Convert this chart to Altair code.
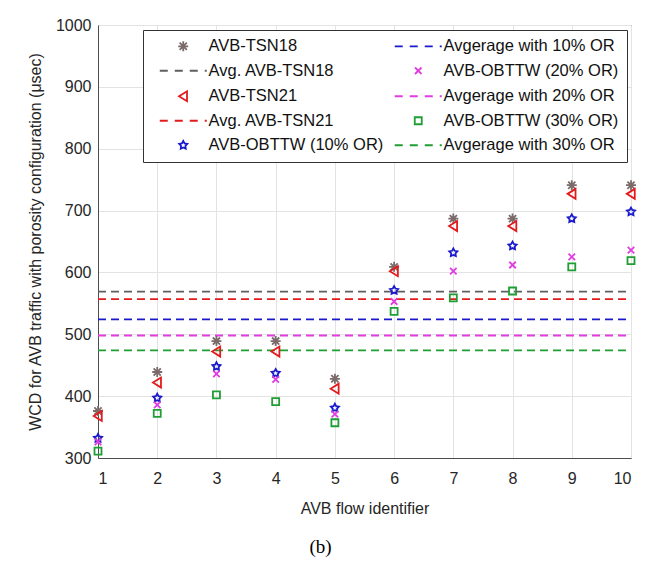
import altair as alt
import pandas as pd

flows = [1, 2, 3, 4, 5, 6, 7, 8, 9, 10]
tsn18 = [376, 439, 489, 489, 428, 609, 687, 687, 741, 741]
tsn21 = [368, 422, 472, 472, 412, 602, 675, 675, 727, 727]
obttw10 = [332, 397, 448, 437, 381, 571, 632, 643, 687, 698]
obttw20 = [326, 386, 436, 427, 371, 553, 602, 612, 625, 636]
obttw30 = [311, 372, 402, 391, 357, 537, 559, 570, 609, 619]

avg_names = ["Avg. AVB-TSN18", "Avg. AVB-TSN21", "Avgerage with 10% OR",
             "Avgerage with 20% OR", "Avgerage with 30% OR"]
avg_values = [569, 557, 524, 498, 474]

point_names = ["AVB-TSN18", "AVB-TSN21", "AVB-OBTTW (10% OR)",
               "AVB-OBTTW (20% OR)", "AVB-OBTTW (30% OR)"]
point_values = [tsn18, tsn21, obttw10, obttw20, obttw30]

# legend order (column-major in a 2-column legend)
legend_order = ["AVB-TSN18", "Avg. AVB-TSN18", "AVB-TSN21", "Avg. AVB-TSN21",
                "AVB-OBTTW (10% OR)", "Avgerage with 10% OR",
                "AVB-OBTTW (20% OR)", "Avgerage with 20% OR",
                "AVB-OBTTW (30% OR)", "Avgerage with 30% OR"]

C_AST = "#7a6a6a"
C_GRAY = "#5f5f5f"
C_RED = "#e31a1c"
C_BLUE = "#1a1acc"
C_MAG = "#e03ce0"
C_GREEN = "#1f9e33"

color_map = {
    "AVB-TSN18": C_AST, "Avg. AVB-TSN18": C_GRAY,
    "AVB-TSN21": C_RED, "Avg. AVB-TSN21": C_RED,
    "AVB-OBTTW (10% OR)": C_BLUE, "Avgerage with 10% OR": C_BLUE,
    "AVB-OBTTW (20% OR)": C_MAG, "Avgerage with 20% OR": C_MAG,
    "AVB-OBTTW (30% OR)": C_GREEN, "Avgerage with 30% OR": C_GREEN,
}

ASTER = "M-1,0L1,0M0,-1L0,1M-0.72,-0.72L0.72,0.72M-0.72,0.72L0.72,-0.72"
STAR = ("M0,-0.85L0.265,-0.364L0.808,-0.263L0.428,0.139L0.5,0.688L0,0.45"
        "L-0.5,0.688L-0.428,0.139L-0.808,-0.263L-0.265,-0.364Z")
XMARK = "M-0.65,-0.65L0.65,0.65M-0.65,0.65L0.65,-0.65"
SQUARE = "M-0.7,-0.7L0.7,-0.7L0.7,0.7L-0.7,0.7Z"
TRI = "M-0.85,0L0.75,-1L0.75,1Z"
DASH = "M-4.7,0L-3.1,0M-1.7,0L-0.1,0M1.3,0L2.9,0M4.3,0L4.7,0"

shape_map = {
    "AVB-TSN18": ASTER, "AVB-TSN21": TRI, "AVB-OBTTW (10% OR)": STAR,
    "AVB-OBTTW (20% OR)": XMARK, "AVB-OBTTW (30% OR)": SQUARE,
}
for n in avg_names:
    shape_map[n] = DASH

rows = []
for name, vals in zip(point_names, point_values):
    for f, v in zip(flows, vals):
        rows.append({"flow": f, "wcd": v, "series": name})
points_df = pd.DataFrame(rows)

avg_df = pd.DataFrame({"series": avg_names, "wcd": avg_values,
                       "x0": [flows[0]] * 5, "x1": [flows[-1]] * 5})

FONT = "Liberation Sans"

color_scale = alt.Scale(domain=legend_order,
                        range=[color_map[n] for n in legend_order])
shape_scale = alt.Scale(domain=legend_order,
                        range=[shape_map[n] for n in legend_order])

legend = alt.Legend(
    title=None, orient="none", legendX=45, legendY=5, columns=2,
    direction="vertical",
    labelFont=FONT, labelFontSize=16.5, labelColor="#111111",
    symbolSize=100, symbolStrokeWidth=1.8, symbolOffset=24,
    labelOffset=17, rowPadding=7.5, columnPadding=2, padding=8,
    strokeColor="#333333", fillColor="white", labelLimit=400,
)

xscale = alt.Scale(domain=[1, 10], nice=False, zero=False)
yscale = alt.Scale(domain=[300, 1000], nice=False, zero=False)

xaxis = alt.Axis(title="AVB flow identifier", values=flows, format="d",
                 grid=True, labelFontSize=16, titleFontSize=16,
                 labelPadding=12, titlePadding=14)
yaxis = alt.Axis(title="WCD for AVB traffic with porosity configuration (\u03bcsec)",
                 values=[300, 400, 500, 600, 700, 800, 900, 1000], format="d",
                 grid=True, labelFontSize=16, titleFontSize=16,
                 labelPadding=7, titlePadding=12)

rules = alt.Chart(avg_df).mark_rule(strokeDash=[8, 5], strokeWidth=1.8).encode(
    x=alt.X("x0:Q", scale=xscale, axis=xaxis),
    x2="x1:Q",
    y=alt.Y("wcd:Q", scale=yscale, axis=yaxis),
    color=alt.Color("series:N", scale=color_scale, legend=legend),
)

pts = alt.Chart(points_df).mark_point(filled=False, strokeWidth=1.8, size=100, opacity=1).encode(
    x=alt.X("flow:Q", scale=xscale, axis=xaxis),
    y=alt.Y("wcd:Q", scale=yscale, axis=yaxis),
    color=alt.Color("series:N", scale=color_scale, legend=legend),
    shape=alt.Shape("series:N", scale=shape_scale, legend=legend),
)

chart = alt.layer(rules, pts).properties(
    width=533, height=433,
    autosize=alt.AutoSizeParams(type="none"),
    padding={"left": 98, "top": 25, "right": 25, "bottom": 103},
    title=alt.TitleParams("(b)", orient="bottom", font="Liberation Serif",
                          fontSize=19, fontWeight="normal", color="black",
                          offset=22, dx=-44),
).configure_axis(
    labelFont=FONT, titleFont=FONT, labelColor="#262626", titleColor="#262626",
    titleFontWeight="normal", domainColor="#4d4d4d", tickColor="#4d4d4d",
    tickSize=0, gridColor="#e3e3e3", gridWidth=1,
).configure_view(stroke="#4d4d4d", strokeWidth=1)

chart.save("out.html", embed_options={"renderer": "svg", "actions": False})
